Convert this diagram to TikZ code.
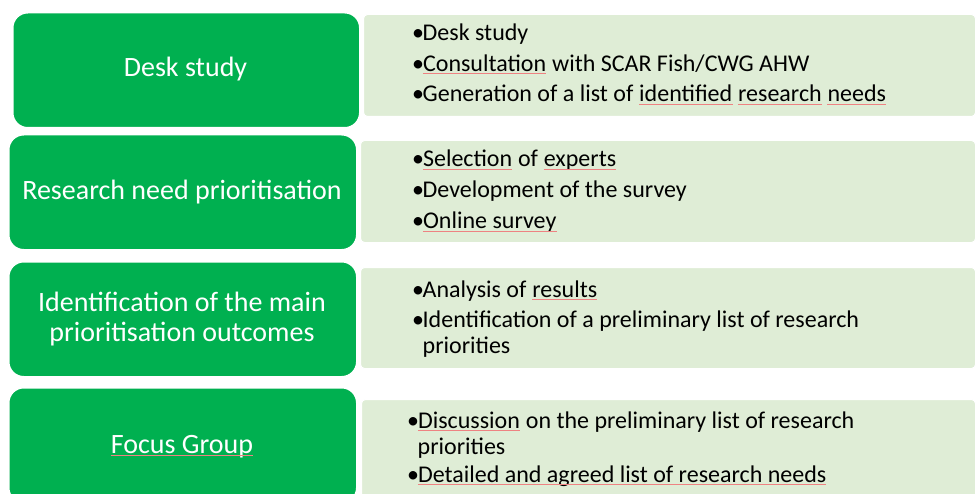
\documentclass[tikz,border=0pt]{standalone}
\usepackage{fontspec}
\setmainfont{Carlito}

\definecolor{stepgreen}{HTML}{00B050}
\definecolor{notegreen}{HTML}{DFEDD6}
\definecolor{spellred}{HTML}{EE8282}

% list bullet, and the indent that lines a wrapped item up with its text
\newcommand\bul{•\kern-1.5pt}
\newcommand\hangin{\phantom{\bul}}
% width of an interword space in the list font
\newcommand\gapw{5.43pt}

\begin{document}
\begin{tikzpicture}[x=1pt, y=-1pt,
  stepbox/.style={draw=white, line width=1.5pt, fill=stepgreen,
    rounded corners=15pt, anchor=north west, minimum width=348pt,
    minimum height=115pt, inner sep=0pt},
  notebox/.style={draw=white, line width=1pt, fill=notegreen,
    rounded corners=4pt, anchor=north west, minimum height=102pt,
    inner sep=0pt},
  steptext/.style={text=white, font=\fontsize{28}{30}\selectfont,
    align=center, anchor=base, inner sep=0pt},
  notetext/.style={text=black, font=\fontsize{24}{26}\selectfont,
    anchor=base west, inner sep=0pt},
  spell/.style={draw=spellred, line width=1pt}]

\useasboundingbox (0,0) rectangle (976,494);
\clip (0,0) rectangle (976,494);

% detail panels on the right
\node[notebox, minimum width=612pt] (n1) at (363,14) {};
\node[notebox, minimum width=615pt] (n2) at (360,140) {};
\node[notebox, minimum width=615pt, minimum height=101pt] (n3) at (360,267) {};
\node[notebox, minimum width=614pt] (n4) at (361,399) {};

% step boxes on the left
\node[stepbox, minimum width=347pt] (s1) at (12,12) {};
\node[stepbox] (s2) at (8,134) {};
\node[stepbox] (s3) at (8,261) {};
\node[stepbox] (s4) at (8,387) {};

% step titles (a node's base is the baseline of its last line)
\node[steptext] (t1) at (185.5,77) {Desk study};
\node[steptext] (t2) at (182,200) {Research need prioritisation};
\node[steptext] (t3) at (182,341.7) {Identification of the main\\prioritisation outcomes};
\node[steptext] (t4) at (182,453) {Focus Group};

% bullet list: desk study
\node[notetext] (a1) at (412,41) {\bul Desk study};
\node[notetext] (b1) at (412,71.5) {\bul};
\node[notetext] (c1) at (b1.base east) {Consultation};
\node[notetext] (r1) at (c1.base east) {\ with SCAR Fish/CWG AHW};
\node[notetext] (g1) at (412,102) {\bul Generation of a list of};
\node[notetext] (u1) at ([xshift=\gapw]g1.base east) {identified};
\node[notetext] (u2) at ([xshift=\gapw]u1.base east) {research};
\node[notetext] (u3) at ([xshift=\gapw]u2.base east) {needs};

% bullet list: research need prioritisation
\node[notetext] (b2) at (412,167) {\bul};
\node[notetext] (u4) at (b2.base east) {Selection};
\node[notetext] (r2) at (u4.base east) {\ of};
\node[notetext] (u5) at ([xshift=\gapw]r2.base east) {experts};
\node[notetext] (d2) at (412,198) {\bul Development of the survey};
\node[notetext] (b3) at (412,229) {\bul};
\node[notetext] (u6) at (b3.base east) {Online survey};

% bullet list: main outcomes
\node[notetext] (a3) at (412,297) {\bul Analysis of};
\node[notetext] (u7) at ([xshift=\gapw]a3.base east) {results};
\node[notetext] (i3) at (412,327.7) {\bul Identification of a preliminary list of research};
\node[notetext] (p3) at (412,353.7) {\hangin priorities};

% bullet list: focus group
\node[notetext] (b4) at (407,428) {\bul};
\node[notetext] (u8) at (b4.base east) {Discussion};
\node[notetext] (r4) at (u8.base east) {\ on the preliminary list of research};
\node[notetext] (p4) at (407,454) {\hangin priorities};
\node[notetext] (b5) at (407,482) {\bul};
\node[notetext] (u9) at (b5.base east) {Detailed and agreed list of research needs};

% red proofing underlines
\foreach \w in {t4,c1,u1,u2,u3,u4,u5,u6,u7,u8,u9}
  \draw[spell] ([yshift=-2.5pt]\w.base west) -- ([yshift=-2.5pt]\w.base east);
\end{tikzpicture}
\end{document}
